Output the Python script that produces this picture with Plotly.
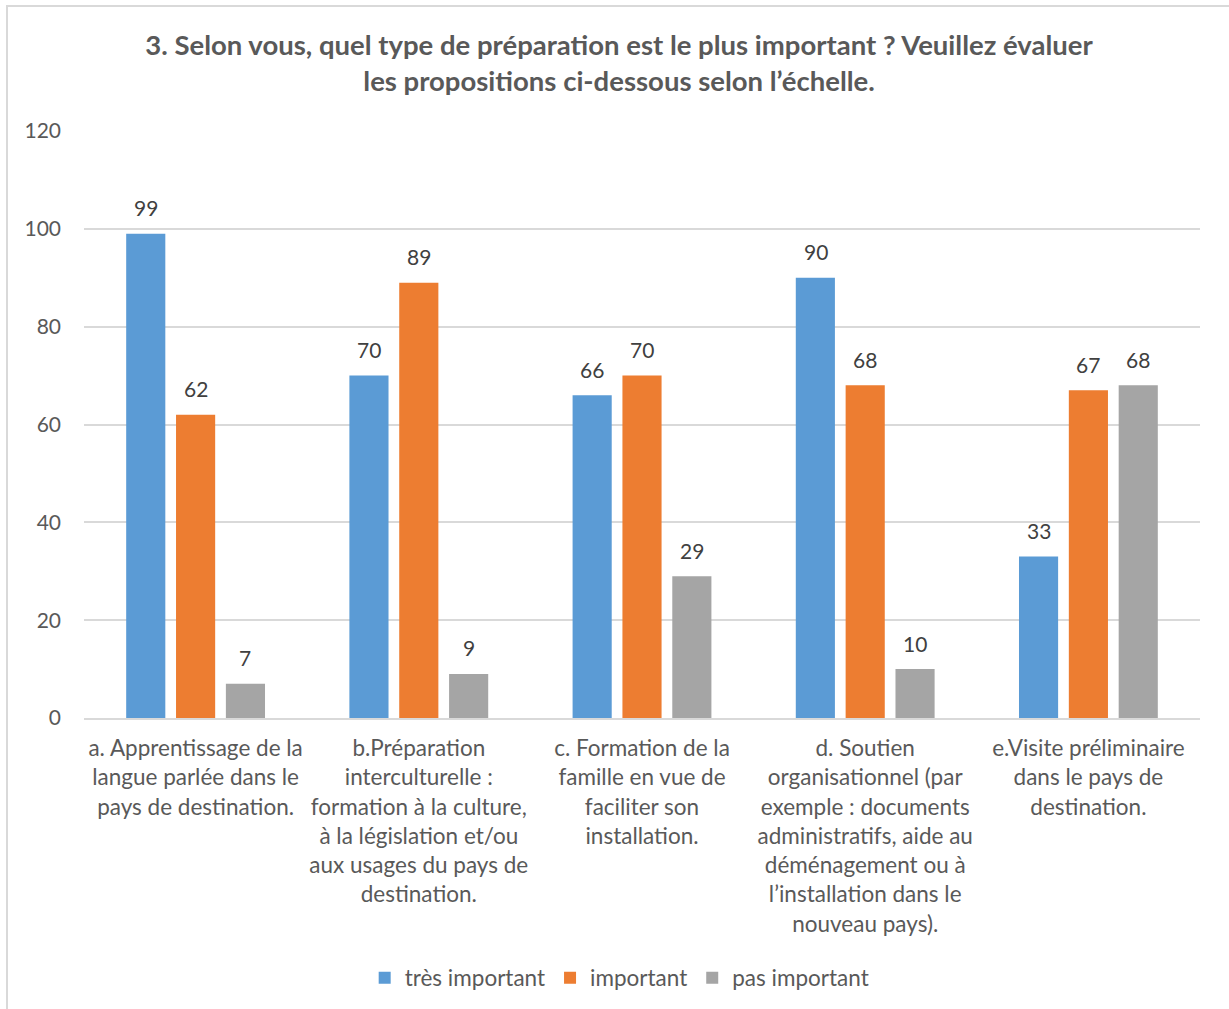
import plotly.graph_objects as go

categories = [
    "a. Apprentissage de la<br>langue parlée dans le<br>pays de destination.",
    "b.Préparation<br>interculturelle :<br>formation à la culture,<br>à la législation et/ou<br>aux usages du pays de<br>destination.",
    "c. Formation de la<br>famille en vue de<br>faciliter son<br>installation.",
    "d. Soutien<br>organisationnel (par<br>exemple : documents<br>administratifs, aide au<br>déménagement ou à<br>l’installation dans le<br>nouveau pays).",
    "e.Visite préliminaire<br>dans le pays de<br>destination.",
]
tres_important = [99, 70, 66, 90, 33]
important = [62, 89, 70, 68, 67]
pas_important = [7, 9, 29, 10, 68]
series_names = ["très important", "important", "pas important"]
colors = ["#5B9BD5", "#ED7D31", "#A5A5A5"]

FONT = "Lato"
TXT = "#595959"

fig = go.Figure()
all_series = [tres_important, important, pas_important]
for name, vals, col in zip(series_names, all_series, colors):
    fig.add_trace(go.Bar(
        x=categories, y=vals, name=name, marker=dict(color=col, line=dict(width=0)),
    ))

# data labels above bars
offsets = [-49.7, 0, 49.7]
annotations = []
for vals, dx in zip(all_series, offsets):
    for cat, v in zip(categories, vals):
        annotations.append(dict(
            x=cat, y=v, xref="x", yref="y", text=str(v), showarrow=False,
            xshift=dx, yshift=26, yanchor="middle",
            font=dict(family=FONT, size=21, color="#404040"),
        ))

fig.update_layout(
    width=1229, height=1009,
    margin=dict(l=84, r=29, t=131, b=291, autoexpand=False),
    paper_bgcolor="white", plot_bgcolor="white",
    barmode="group", bargap=0.33, bargroupgap=0.215,
    title=dict(
        text="<b>3. Selon vous, quel type de préparation est le plus important ? Veuillez évaluer<br>les propositions ci-dessous selon l’échelle.</b>",
        x=0.5037, xanchor="center", y=0.945, yanchor="top",
        font=dict(family=FONT, size=27.5, color=TXT),
    ),
    font=dict(family=FONT, color=TXT),
    showlegend=True,
    legend=dict(
        orientation="h", x=0.48, xanchor="center", y=-0.443, yanchor="middle",
        font=dict(family=FONT, size=22.5, color=TXT),
        itemwidth=30, traceorder="normal",
    ),
    annotations=annotations,
    xaxis=dict(
        showgrid=False, showline=True, linecolor="#D9D9D9", linewidth=2,
        tickfont=dict(family=FONT, size=22.5, color=TXT), ticks="",
        ticklabelstandoff=9, automargin=False,
    ),
    yaxis=dict(
        range=[0, 120], dtick=20, showgrid=True, gridcolor="#D9D9D9", gridwidth=1.5,
        zeroline=False, showline=False, ticks="", automargin=False,
        tickfont=dict(family=FONT, size=21, color=TXT), ticklabelstandoff=22,
    ),
    shapes=[dict(
        type="rect", xref="paper", yref="paper",
        x0=-0.069, x1=1.05, y0=-0.6, y1=1.213,
        line=dict(color="#D9D9D9", width=2), fillcolor="rgba(0,0,0,0)", layer="below",
    )],
)

fig.write_html("out.html")
